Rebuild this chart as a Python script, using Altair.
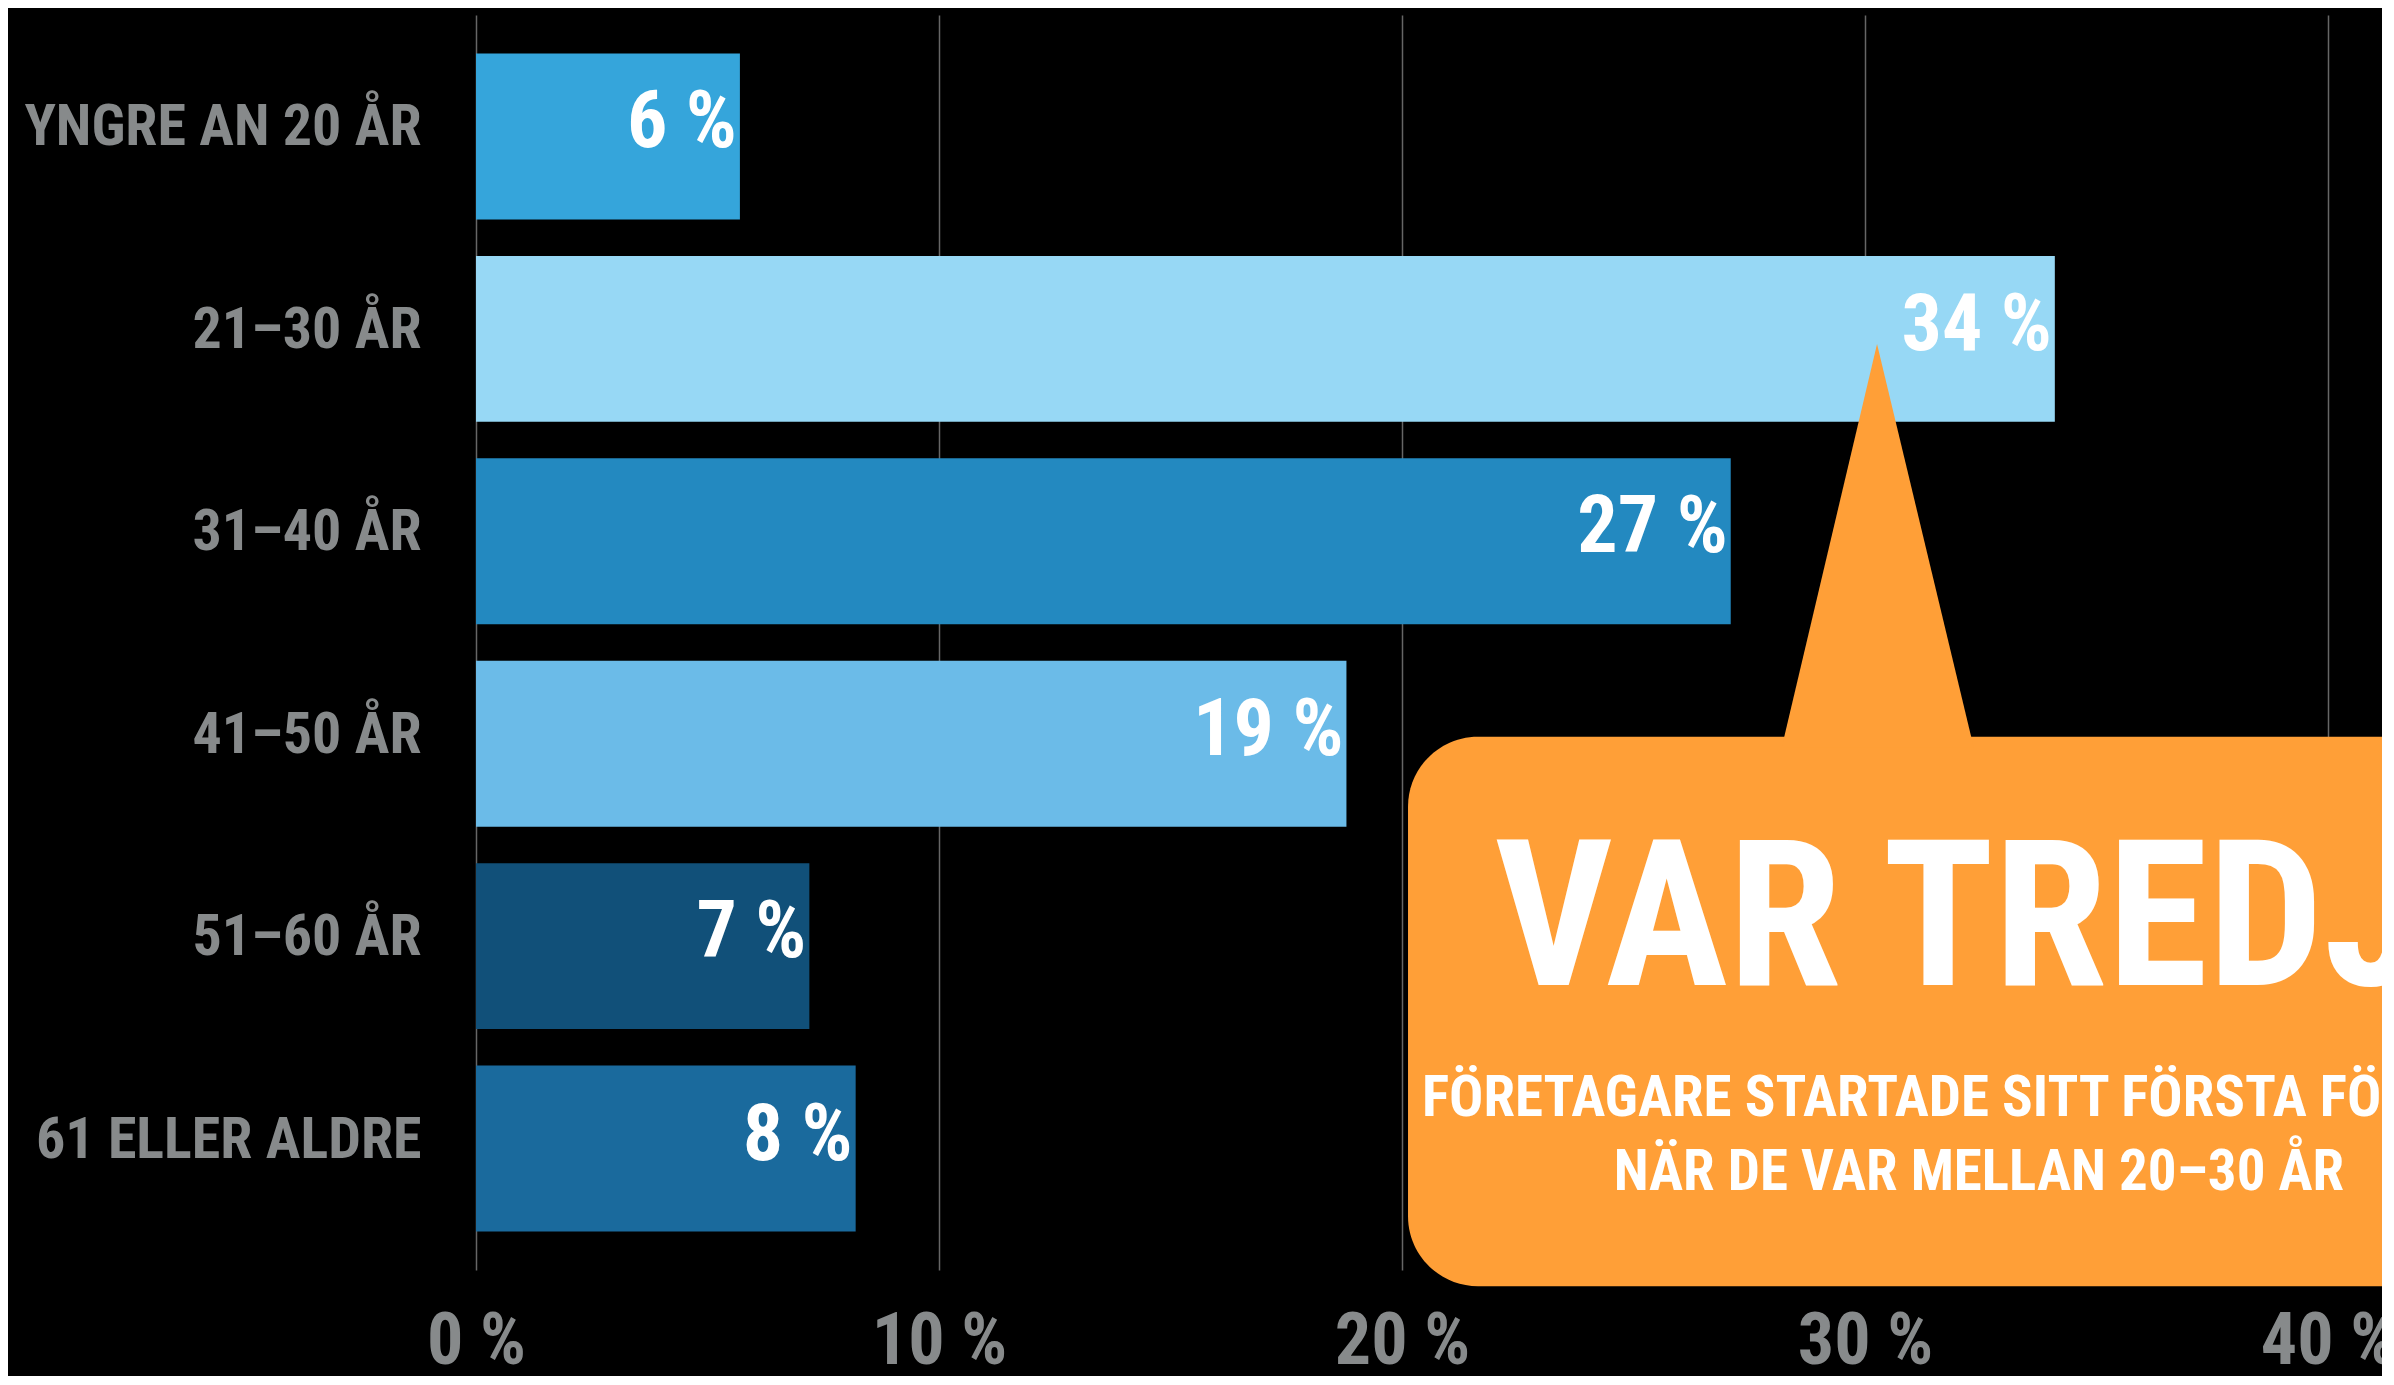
import altair as alt
import pandas as pd

# ---- data ----
categories = ["YNGRE AN 20 ÅR", "21–30 ÅR", "31–40 ÅR", "41–50 ÅR", "51–60 ÅR", "61 ELLER ALDRE"]
values = [5.7, 34.1, 27.1, 18.8, 7.2, 8.2]
value_labels = ["6 %", "34 %", "27 %", "19 %", "7 %", "8 %"]
bar_colors = ["#35A5DB", "#97D8F5", "#2389C0", "#6BBBE8", "#115079", "#1A6A9D"]
x_ticks = [0, 10, 20, 30, 40]

headline = "VAR TREDJE"
sub_lines = ["FÖRETAGARE STARTADE SITT FÖRSTA FÖRETAG", "NÄR DE VAR MELLAN 20–30 ÅR"]

# ---- callout geometry, in data units (x: percent, y: bar-step units from top) ----
callout_x = [20.13, 45.0]
callout_y = [3.565, 6.28]
pointer_x = [28.2, 30.26, 32.35]
pointer_top = [3.62, 1.625, 3.62]
pointer_base = [3.62, 3.62, 3.62]
headline_pos = (22.0, 4.79)
sub_x = 32.46
sub_y = [5.437, 5.807]

FONT = "Roboto Condensed, Roboto, sans-serif"
GREY = "#878a8b"
ORANGE = "#FF9F37"

bars = pd.DataFrame({"cat": categories, "value": values, "label": value_labels})
callout = pd.DataFrame({"x0": [callout_x[0]], "x1": [callout_x[1]],
                        "y0": [callout_y[0]], "y1": [callout_y[1]]})
pointer = pd.DataFrame({"px": pointer_x, "py": pointer_top, "pb": pointer_base})
head_df = pd.DataFrame({"x": [headline_pos[0]], "y": [headline_pos[1]], "t": [headline]})
sub_df = pd.DataFrame({"x": [sub_x, sub_x], "y": sub_y, "t": sub_lines})

x_enc = alt.X(
    "value:Q",
    scale=alt.Scale(domain=[0, 40], nice=False, zero=True),
    axis=alt.Axis(
        values=x_ticks, labelExpr="datum.value + ' %'", title=None,
        grid=True, gridColor="#666666", gridWidth=1.5,
        domain=False, ticks=False, labelFlush=False, labelOverlap=False,
        labelLimit=1000,
        labelFont=FONT, labelFontWeight="bold", labelFontSize=72,
        labelColor=GREY, labelPadding=36,
    ),
)
y_enc = alt.Y(
    "cat:N", sort=categories,
    scale=alt.Scale(paddingInner=0.18, paddingOuter=0.19),
    axis=alt.Axis(
        title=None, ticks=False, domain=False, labelLimit=1000,
        labelPadding=55, labelFont=FONT, labelFontWeight="bold",
        labelFontSize=58, labelColor=GREY, labelOffset=-8,
    ),
)

bar_layer = alt.Chart(bars).mark_bar().encode(
    x=x_enc, y=y_enc,
    color=alt.Color("cat:N", scale=alt.Scale(domain=categories, range=bar_colors), legend=None),
)
bar_text = alt.Chart(bars).mark_text(
    align="right", baseline="middle", dx=-3, dy=-13,
    font=FONT, fontWeight="bold", fontSize=80, color="white",
).encode(x="value:Q", y=alt.Y("cat:N", sort=categories), text="label:N")

bars_block = alt.layer(bar_layer, bar_text)

ys = alt.Scale(domain=[0, 6.2], reverse=True, nice=False, zero=False)

rect_layer = alt.Chart(callout).mark_rect(color=ORANGE, cornerRadius=70).encode(
    x="x0:Q", x2="x1:Q", y=alt.Y("y0:Q", scale=ys, axis=None), y2="y1:Q"
)
pointer_layer = alt.Chart(pointer).mark_area(color=ORANGE).encode(
    x="px:Q", y=alt.Y("py:Q", scale=ys, axis=None), y2="pb:Q"
)
head_layer = alt.Chart(head_df).mark_text(
    align="left", baseline="alphabetic", font=FONT, fontWeight="bold",
    fontSize=205, color="white",
).encode(x="x:Q", y=alt.Y("y:Q", scale=ys, axis=None), text="t:N")
sub_layer = alt.Chart(sub_df).mark_text(
    align="center", baseline="alphabetic", font=FONT, fontWeight="bold",
    fontSize=57, color="white",
).encode(x="x:Q", y=alt.Y("y:Q", scale=ys, axis=None), text="t:N")

chart = (
    alt.layer(bars_block, rect_layer, pointer_layer, head_layer, sub_layer)
    .resolve_scale(y="independent")
    .properties(
        width=1852, height=1255,
        autosize=alt.AutoSizeParams(type="none"),
        padding={"left": 468, "top": 7, "right": 54, "bottom": 106},
        background="#000000",
    )
    .configure_view(stroke=None)
)

chart.save("out.html", embed_options={"renderer": "svg", "actions": False})
